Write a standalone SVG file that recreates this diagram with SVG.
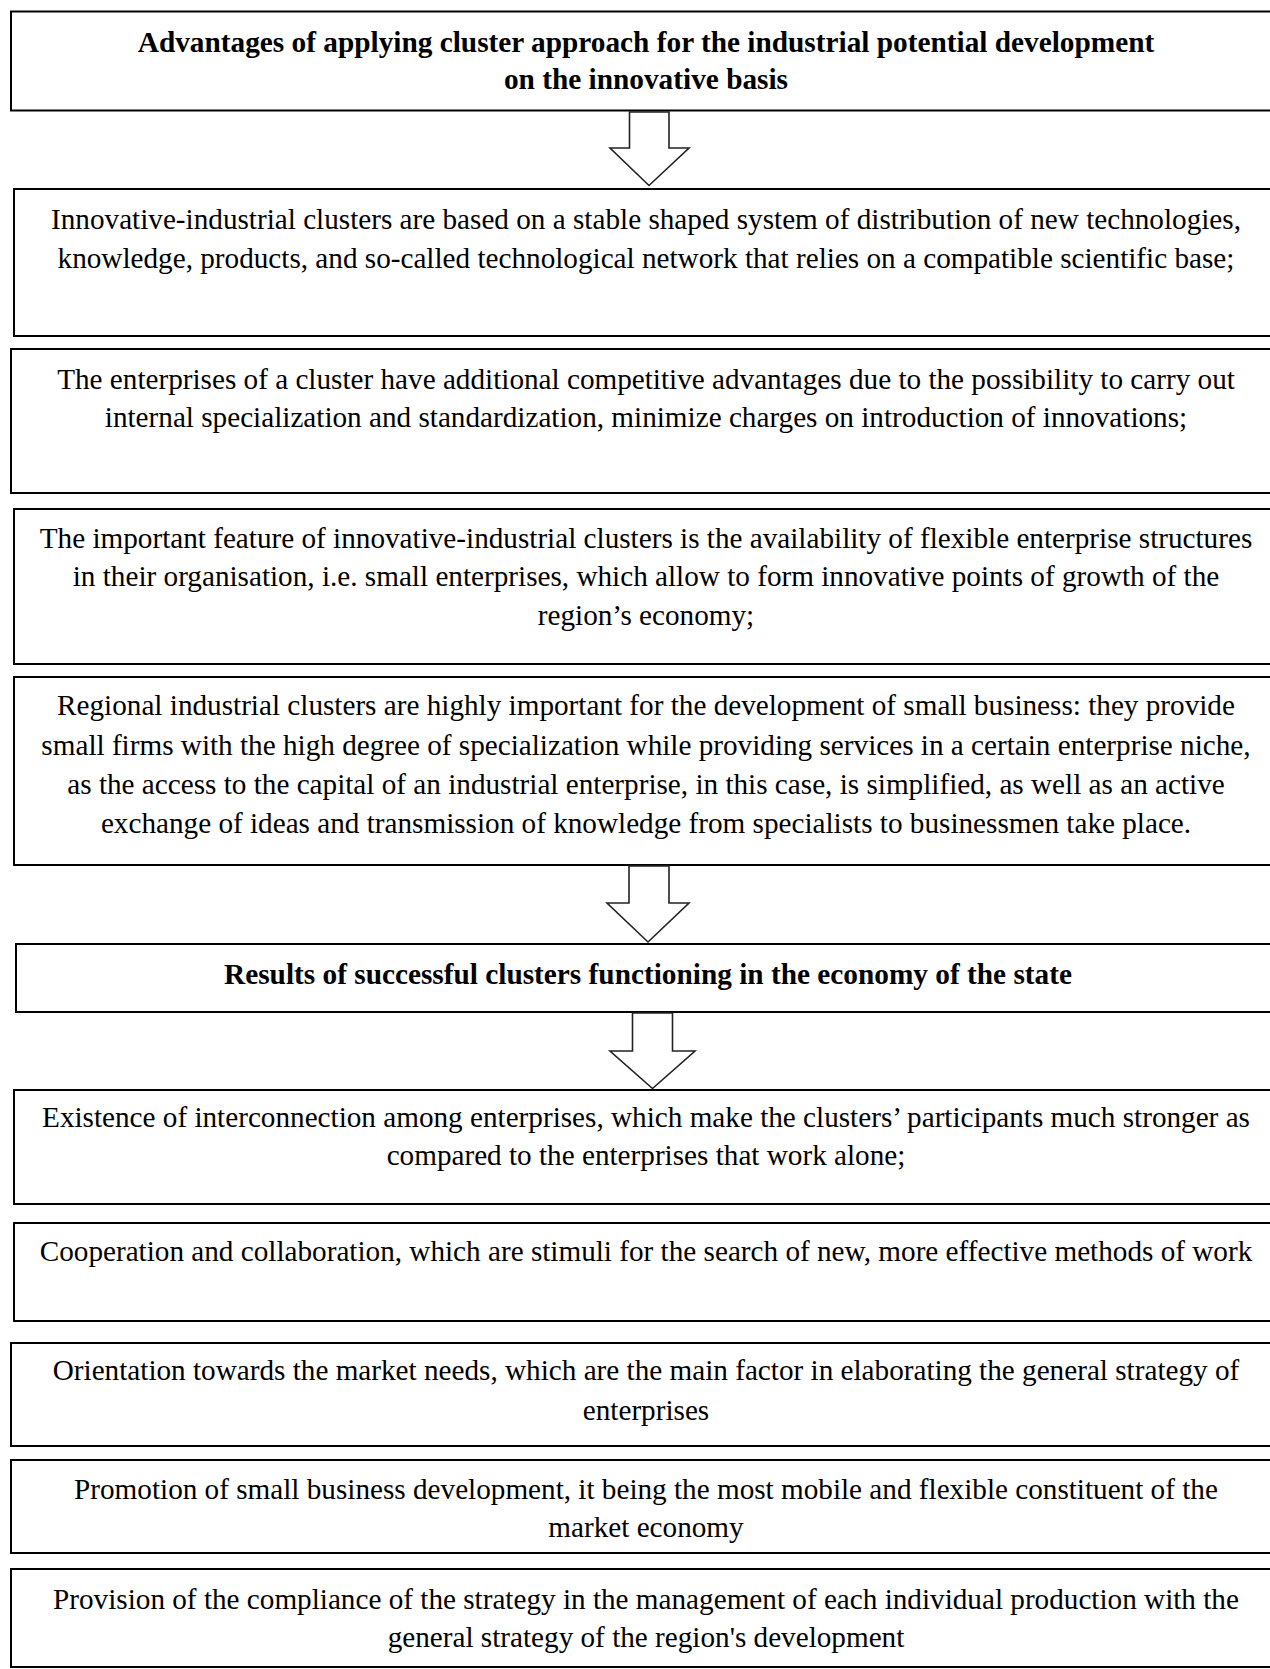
<svg xmlns="http://www.w3.org/2000/svg" width="1270" height="1669" viewBox="0 0 1270 1669">
<style>
.box{fill:#fff;stroke:#000;stroke-width:2}
.arr{fill:#fff;stroke:#222;stroke-width:1.6;stroke-linejoin:miter}
text{font-family:"Liberation Serif","Times New Roman",serif;font-size:29.2px;fill:#000;text-anchor:middle}
.b{font-weight:bold;font-size:29.3px}
</style>
<rect width="1270" height="1669" fill="#fff"/>
<g id="n1"><rect class="box" x="11" y="11.5" width="1270" height="99"/>
<text class="b" x="646" y="52">Advantages of applying cluster approach for the industrial potential development</text>
<text class="b" x="646" y="89">on the innovative basis</text></g>
<g id="n2"><rect class="box" x="14" y="189" width="1270" height="147"/>
<text x="646" y="229">Innovative-industrial clusters are based on a stable shaped system of distribution of new technologies,</text>
<text x="646" y="268">knowledge, products, and so-called technological network that relies on a compatible scientific base;</text></g>
<g id="n3"><rect class="box" x="11" y="349" width="1270" height="144"/>
<text x="646" y="389">The enterprises of a cluster have additional competitive advantages due to the possibility to carry out</text>
<text x="646" y="427">internal specialization and standardization, minimize charges on introduction of innovations;</text></g>
<g id="n4"><rect class="box" x="14" y="509" width="1270" height="155"/>
<text x="646" y="548">The important feature of innovative-industrial clusters is the availability of flexible enterprise structures</text>
<text x="646" y="586">in their organisation, i.e. small enterprises, which allow to form innovative points of growth of the</text>
<text x="646" y="625">region’s economy;</text></g>
<g id="n5"><rect class="box" x="14" y="677" width="1270" height="188"/>
<text x="646" y="715">Regional industrial clusters are highly important for the development of small business: they provide</text>
<text x="646" y="755">small firms with the high degree of specialization while providing services in a certain enterprise niche,</text>
<text x="646" y="794">as the access to the capital of an industrial enterprise, in this case, is simplified, as well as an active</text>
<text x="646" y="833">exchange of ideas and transmission of knowledge from specialists to businessmen take place.</text></g>
<g id="n6"><rect class="box" x="16" y="944" width="1270" height="68"/>
<text class="b" x="648" y="984">Results of successful clusters functioning in the economy of the state</text></g>
<g id="n7"><rect class="box" x="14" y="1090" width="1270" height="114"/>
<text x="646" y="1127">Existence of interconnection among enterprises, which make the clusters’ participants much stronger as</text>
<text x="646" y="1165">compared to the enterprises that work alone;</text></g>
<g id="n8"><rect class="box" x="14" y="1223" width="1270" height="98"/>
<text x="646" y="1261">Cooperation and collaboration, which are stimuli for the search of new, more effective methods of work</text></g>
<g id="n9"><rect class="box" x="11" y="1343" width="1270" height="103"/>
<text x="646" y="1380">Orientation towards the market needs, which are the main factor in elaborating the general strategy of</text>
<text x="646" y="1420">enterprises</text></g>
<g id="n10"><rect class="box" x="11" y="1460" width="1270" height="93"/>
<text x="646" y="1499">Promotion of small business development, it being the most mobile and flexible constituent of the</text>
<text x="646" y="1537">market economy</text></g>
<g id="n11"><rect class="box" x="11" y="1569" width="1270" height="98"/>
<text x="646" y="1609">Provision of the compliance of the strategy in the management of each individual production with the</text>
<text x="646" y="1647">general strategy of the region's development</text></g>
<g id="connectors">
<path class="arr" d="M629.5 112 H669 V148 H689 L649 185.5 L610 148 H629.5 Z"/>
<path class="arr" d="M629 866 H669 V903 H689 L648 942 L607 903 H629 Z"/>
<path class="arr" d="M632.5 1013 H672.5 V1051 H695 L652.5 1088.5 L610 1051 H632.5 Z"/>
</g>
</svg>
